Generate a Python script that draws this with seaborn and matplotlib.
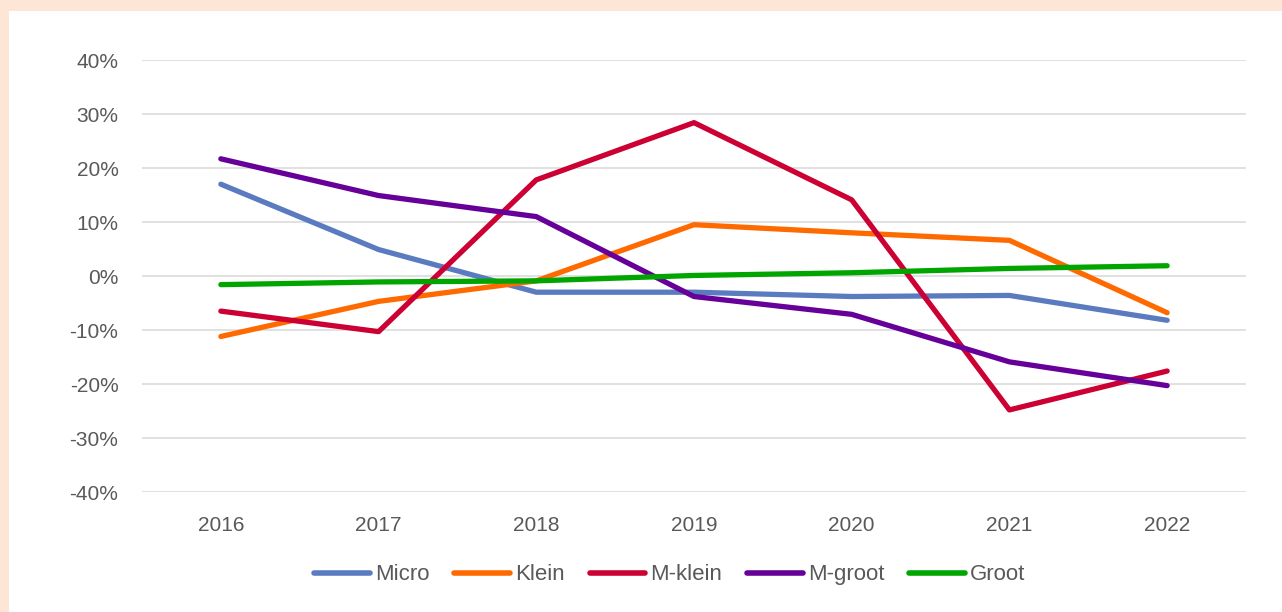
import matplotlib
matplotlib.use("Agg")
import matplotlib.pyplot as plt
import matplotlib.patches as mpatches
from matplotlib.ticker import PercentFormatter
import seaborn as sns
import pandas as pd

# Waarden (fractie, 0.10 = 10%)
jaren = [2016, 2017, 2018, 2019, 2020, 2021, 2022]
micro = [0.170, 0.049, -0.030, -0.030, -0.038, -0.036, -0.082]
klein = [-0.112, -0.047, -0.009, 0.095, 0.080, 0.066, -0.068]
m_klein = [-0.065, -0.103, 0.178, 0.284, 0.141, -0.248, -0.176]
m_groot = [0.217, 0.149, 0.110, -0.038, -0.071, -0.159, -0.203]
groot = [-0.016, -0.011, -0.009, 0.001, 0.006, 0.014, 0.019]

reeksen = ["Micro", "Klein", "M-klein", "M-groot", "Groot"]
kleuren = ["#5A7BC0", "#FF6A00", "#CC0033", "#660099", "#00A500"]

df = pd.DataFrame({
    "jaar": jaren * 5,
    "waarde": micro + klein + m_klein + m_groot + groot,
    "reeks": [r for r in reeksen for _ in jaren],
})

sns.set_style("white")
plt.rcParams["font.family"] = ["Liberation Sans", "DejaVu Sans"]
plt.rcParams["axes.unicode_minus"] = False

fig = plt.figure(figsize=(12.82, 6.12), dpi=100, facecolor="#FDE6D6")
# witte binnenvlak (rand links en boven blijft perzik)
fig.patches.append(mpatches.Rectangle((9 / 1282, 0), 1, 1 - 11 / 612,
                                      transform=fig.transFigure,
                                      facecolor="white", edgecolor="none", zorder=-10))

ax = fig.add_axes([142 / 1282, 1 - 492 / 612, (1246 - 142) / 1282, (492 - 60) / 612])
ax.set_facecolor("none")

sns.lineplot(data=df, x="jaar", y="waarde", hue="reeks", hue_order=reeksen,
             palette=kleuren, linewidth=3.8, ax=ax, legend=True,
             solid_capstyle="round")

ax.set_xlim(2015.5, 2022.5)
ax.set_ylim(-0.4, 0.4)
ax.set_xticks(jaren)
ax.set_yticks([-0.4, -0.3, -0.2, -0.1, 0, 0.1, 0.2, 0.3, 0.4])
ax.yaxis.set_major_formatter(PercentFormatter(1.0, decimals=0))
ax.grid(axis="y", color="#D9D9D9", linewidth=1.1)
ax.set_axisbelow(True)
for s in ax.spines.values():
    s.set_visible(False)
ax.tick_params(axis="both", length=0, labelsize=15, labelcolor="#595959")
ax.tick_params(axis="y", pad=17)
ax.tick_params(axis="x", pad=17)
ax.set_xlabel("")
ax.set_ylabel("")

handles, labels = ax.get_legend_handles_labels()
for h in handles:
    h.set_linewidth(4.0)
ax.legend(handles, labels, loc="center", bbox_to_anchor=(0.478, -0.192),
          ncol=5, frameon=False, handlelength=2.5,
          handletextpad=0.23, columnspacing=1.12,
          prop={"family": ["Liberation Sans", "DejaVu Sans"], "size": 16},
          labelcolor="#595959")

fig.savefig("out.png", dpi=100, facecolor=fig.get_facecolor())
